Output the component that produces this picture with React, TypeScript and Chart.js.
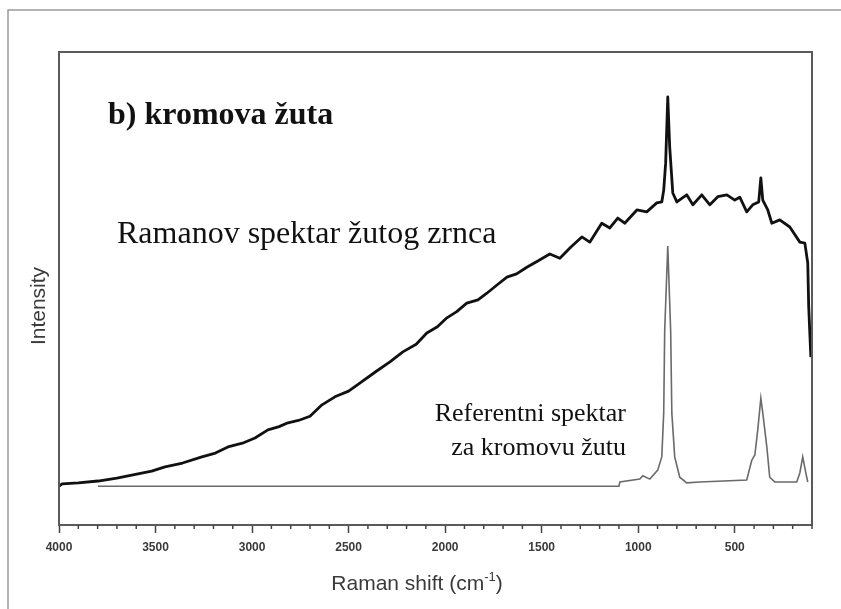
import React, { useEffect, useRef } from "react";
import { Chart, registerables } from "chart.js";

Chart.register(...registerables);

// Measured spectrum (black) — wavenumber (cm-1) and relative intensity
const sampleShift = [
  4000, 3984, 3900, 3798, 3700, 3591, 3520, 3451, 3360, 3260, 3190, 3125, 3050, 2985, 2918, 2860, 2814,
  2760, 2700, 2638, 2571, 2500, 2442, 2360, 2286, 2219, 2150, 2095, 2040, 1991, 1940, 1888, 1830, 1784,
  1730, 1680, 1630, 1577, 1520, 1458, 1406, 1350, 1292, 1251, 1189, 1147, 1106, 1070, 1007, 956, 904, 878,
  868, 858, 847, 837, 821, 800, 749, 717, 671, 629, 588, 541, 500, 474, 438, 407, 376, 365, 355, 329, 308,
  267, 215, 163, 137, 122, 117, 106,
];
const sampleIntensity = [
  8.2, 8.7, 8.9, 9.3, 9.9, 10.8, 11.4, 12.3, 13.1, 14.4, 15.2, 16.5, 17.3, 18.4, 20.1, 20.8, 21.6,
  22.1, 23.0, 25.4, 27.1, 28.3, 30.0, 32.4, 34.5, 36.6, 38.2, 40.6, 41.9, 43.8, 45.1, 46.9, 47.6, 49.0,
  50.8, 52.4, 53.1, 54.5, 55.8, 57.3, 56.4, 58.7, 60.9, 59.8, 63.8, 62.8, 64.9, 63.8, 66.6, 66.2, 68.1, 68.3,
  70.8, 76.5, 90.5, 79.9, 70.2, 68.3, 69.8, 67.7, 69.8, 67.7, 69.4, 69.8, 68.7, 69.3, 66.2, 67.7, 68.3, 73.4,
  68.7, 66.6, 63.8, 64.5, 63.0, 59.8, 59.6, 55.4, 46.1, 35.5,
];

// Reference spectrum (grey)
const refShift = [
  3798, 3000, 2000, 1100, 1095, 992, 976, 940, 899, 878, 868, 863, 847, 832, 826, 811, 785, 749, 681,
  438, 412, 396, 381, 365, 355, 334, 319, 293, 179, 163, 148, 132, 122,
];
const refIntensity = [
  8.2, 8.2, 8.2, 8.2, 9.1, 9.7, 10.4, 9.7, 11.6, 14.4, 23.7, 41.0, 59.0, 41.0, 23.7, 14.4, 10.1, 8.9, 9.1,
  9.5, 13.7, 14.8, 20.1, 26.8, 23.7, 16.5, 10.1, 9.1, 9.1, 11.0, 14.4, 11.0, 9.1,
];

const xMin = 100;
const xMax = 4000;
const majorStep = 500;
const minorStep = 100;

const xTitle = "Raman shift (cm";
const xTitleSup = "-1";
const yTitle = "Intensity";
const panelTitle = "b) kromova žuta";
const sampleLabel = "Ramanov spektar žutog zrnca";
const refLabel1 = "Referentni spektar";
const refLabel2 = "za kromovu žutu";

const W = 841;
const H = 609;

export default function App() {
  const ref = useRef<HTMLCanvasElement | null>(null);

  useEffect(() => {
    const canvas = ref.current;
    if (!canvas) return;

    const decor = {
      id: "decor",
      beforeDraw(chart: any) {
        const c = chart.ctx;
        c.save();
        c.fillStyle = "#ffffff";
        c.fillRect(0, 0, chart.width, chart.height);
        // outer figure frame
        c.strokeStyle = "#9a9a9a";
        c.lineWidth = 1.5;
        c.beginPath();
        c.moveTo(8, H);
        c.lineTo(8, 10);
        c.lineTo(W, 10);
        c.stroke();
        c.restore();
      },
      afterDatasetsDraw(chart: any) {
        const c = chart.ctx;
        const a = chart.chartArea;
        const xs = chart.scales.x;
        c.save();
        // plot box
        c.strokeStyle = "#5a5a5a";
        c.lineWidth = 2;
        c.strokeRect(a.left, a.top, a.right - a.left, a.bottom - a.top);
        // minor ticks
        c.strokeStyle = "#444";
        c.lineWidth = 1.5;
        for (const t of xs.ticks) {
          if (t.value % majorStep !== 0) {
            const px = xs.getPixelForValue(t.value);
            c.beginPath();
            c.moveTo(px, a.bottom);
            c.lineTo(px, a.bottom + 4);
            c.stroke();
          }
        }
        // x title with superscript
        c.fillStyle = "#3a3a3a";
        c.textBaseline = "alphabetic";
        c.font = "21px 'Liberation Sans', Arial, sans-serif";
        const w1 = c.measureText(xTitle).width;
        c.font = "13px 'Liberation Sans', Arial, sans-serif";
        const w2 = c.measureText(xTitleSup).width;
        c.font = "21px 'Liberation Sans', Arial, sans-serif";
        const w3 = c.measureText(")").width;
        const total = w1 + w2 + w3;
        const x0 = 417 - total / 2;
        const base = 590;
        c.fillText(xTitle, x0, base);
        c.font = "13px 'Liberation Sans', Arial, sans-serif";
        c.fillText(xTitleSup, x0 + w1, base - 9);
        c.font = "21px 'Liberation Sans', Arial, sans-serif";
        c.fillText(")", x0 + w1 + w2, base);
        // y title
        c.save();
        c.translate(45, 306);
        c.rotate(-Math.PI / 2);
        c.textAlign = "center";
        c.fillText(yTitle, 0, 0);
        c.restore();
        // annotations
        c.fillStyle = "#111";
        c.textAlign = "left";
        c.font = "bold 32px 'Liberation Serif', 'Times New Roman', serif";
        c.fillText(panelTitle, 108, 124);
        c.font = "32px 'Liberation Serif', 'Times New Roman', serif";
        c.fillText(sampleLabel, 117, 243);
        c.font = "26px 'Liberation Serif', 'Times New Roman', serif";
        c.textAlign = "right";
        c.fillText(refLabel1, 626, 421);
        c.fillText(refLabel2, 626, 455);
        c.restore();
      },
    };

    const chart = new Chart(canvas, {
      type: "line",
      data: {
        datasets: [
          {
            label: "sample",
            data: sampleShift.map((x, i) => ({ x, y: sampleIntensity[i] })),
            borderColor: "#111",
            borderWidth: 2.8,
            pointRadius: 0,
            tension: 0,
            borderJoinStyle: "round",
            fill: false,
          },
          {
            label: "reference",
            data: refShift.map((x, i) => ({ x, y: refIntensity[i] })),
            borderColor: "#6a6a6a",
            borderWidth: 1.6,
            pointRadius: 0,
            tension: 0,
            fill: false,
          },
        ],
      },
      options: {
        responsive: false,
        animation: false,
        events: [],
        layout: { padding: { left: 59, right: 29, top: 52, bottom: 0 } },
        plugins: { legend: { display: false }, tooltip: { enabled: false } },
        scales: {
          x: {
            type: "linear",
            reverse: true,
            min: xMin,
            max: xMax,
            afterFit(scale: any) {
              scale.height = 84;
            },
            border: { display: true, color: "#555", width: 2 },
            grid: {
              drawOnChartArea: false,
              drawTicks: true,
              tickLength: 8,
              tickWidth: 1.5,
              tickColor: (ctx: any) =>
                ctx.tick && ctx.tick.value % majorStep === 0 ? "#444" : "rgba(0,0,0,0)",
            },
            ticks: {
              stepSize: minorStep,
              autoSkip: false,
              maxRotation: 0,
              padding: 7,
              color: "#3a3a3a",
              font: { family: "'Liberation Sans', Arial, sans-serif", size: 12, weight: "bold" },
              callback: (v: any) => (Number(v) % majorStep === 0 ? String(v) : ""),
            },
          },
          y: { display: false, min: 0, max: 100 },
        },
      },
      plugins: [decor],
    });
    return () => chart.destroy();
  }, []);

  return (
    <div style={{ position: "fixed", left: 0, top: 0, width: W, height: H }}>
      <canvas ref={ref} width={W} height={H} style={{ display: "block", width: W, height: H }} />
    </div>
  );
}
